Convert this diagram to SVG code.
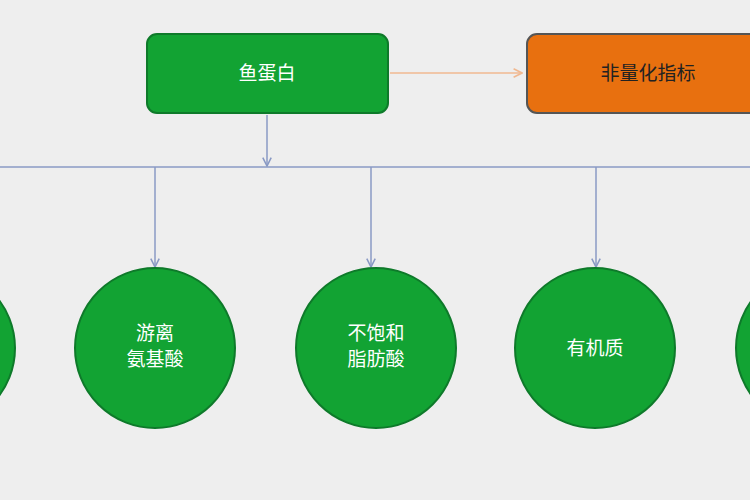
<svg xmlns="http://www.w3.org/2000/svg" width="750" height="500" viewBox="0 0 750 500">
<defs>
<marker id="a" viewBox="0 0 10 10" refX="9" refY="5" markerWidth="7" markerHeight="7" orient="auto"><path d="M1,1 L9,5 L1,9" fill="none" stroke="#8a9ac4" stroke-width="1.5"/></marker>
<marker id="o" viewBox="0 0 10 10" refX="9" refY="5" markerWidth="7" markerHeight="7" orient="auto"><path d="M1,1 L9,5 L1,9" fill="none" stroke="#f0b890" stroke-width="1.5"/></marker>
</defs>
<style>
.c{fill:#12a333;stroke:#0e7a2a;stroke-width:2}
.t{font-family:"Noto Sans CJK SC",sans-serif;font-size:19px;text-anchor:middle;fill:#fff}
.l{stroke:#8a9ac4;stroke-width:1.5;fill:none}
</style>
<rect width="750" height="500" fill="#eeeeee"/>
<g id="connectors">
<line x1="390" y1="73" x2="522" y2="73" stroke="#f0b890" stroke-width="1.5" marker-end="url(#o)"/>
<line class="l" x1="267" y1="115" x2="267" y2="166" marker-end="url(#a)"/>
<line class="l" x1="0" y1="167" x2="750" y2="167"/>
<line class="l" x1="155" y1="167" x2="155" y2="267" marker-end="url(#a)"/>
<line class="l" x1="371" y1="167" x2="371" y2="267" marker-end="url(#a)"/>
<line class="l" x1="596" y1="167" x2="596" y2="267" marker-end="url(#a)"/>
</g>
<g id="n1"><rect class="c" x="147" y="34" width="241" height="79" rx="10"/><text class="t" x="267" y="80">鱼蛋白</text></g>
<g id="n2"><rect x="527" y="34" width="240" height="79" rx="10" fill="#e8700f" stroke="#555" stroke-width="2"/><text class="t" x="648" y="80" fill="#222" style="fill:#222">非量化指标</text></g>
<g id="c0"><circle class="c" cx="-65" cy="348" r="80"/></g>
<g id="c1"><circle class="c" cx="155" cy="348" r="80"/><text class="t" x="155" y="340">游离</text><text class="t" x="155" y="366">氨基酸</text></g>
<g id="c2"><circle class="c" cx="376" cy="348" r="80"/><text class="t" x="376" y="340">不饱和</text><text class="t" x="376" y="366">脂肪酸</text></g>
<g id="c3"><circle class="c" cx="595" cy="348" r="80"/><text class="t" x="595" y="355">有机质</text></g>
<g id="c4"><circle class="c" cx="816" cy="348" r="80"/></g>
</svg>
